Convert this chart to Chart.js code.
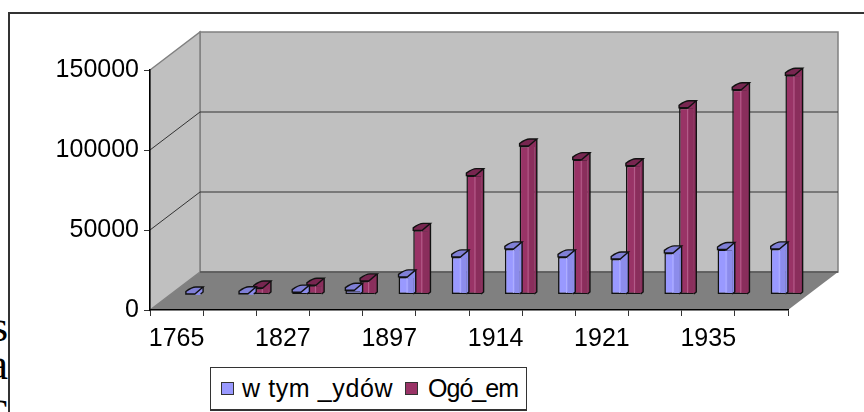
<!DOCTYPE html>
<html lang="pl">
<head>
  <meta charset="UTF-8" />
  <title>w tym _ydów / Ogó_em</title>
  <script src="https://cdn.jsdelivr.net/npm/chart.js"></script>
  <style>
    html, body { margin: 0; padding: 0; background: #fff; overflow: hidden; }
    #frame { position: absolute; left: 8px; top: 12px; width: 900px; height: 500px; border-left: 2px solid #333; border-top: 2px solid #333; }
    #chart { position: absolute; left: 0; top: 0; }
    #margin-text { position: absolute; left: 0; top: 300px; width: 8px; height: 112px; overflow: hidden; font: 44px "Liberation Serif", serif; color: #000; }
    #margin-text span { position: absolute; right: 0; }
    #legend { position: absolute; left: 210px; top: 367px; width: 315px; height: 41px; border: 1px solid #333; border-bottom-width: 2px; background: #fff; display: flex; align-items: center; font: 25px "Liberation Sans", Arial, sans-serif; color: #000; white-space: nowrap; }
    #legend i { display: block; width: 11px; height: 11px; border: 1px solid #333; margin: 0 8px 0 10px; }
    #legend i:nth-of-type(2) { margin-right: 10px; }
    #legend span { margin-right: 2px; }
    #legend span:nth-of-type(1) { letter-spacing: 0.6px; }
    #legend span:nth-of-type(2) { letter-spacing: -1px; }
  </style>
</head>
<body>
  <div id="frame"></div>
  <div id="margin-text"><span style="top:1px">s</span><span style="top:39px">a</span><span style="top:81px">c</span></div>
  <canvas id="chart" width="864" height="412"></canvas>
  <div id="legend"></div>

  <script>
    const categories = ["1765", "", "1827", "", "1897", "", "1914", "", "1921", "", "1935", ""];
    const zydow = [300, 500, 1500, 2700, 11000, 23500, 28500, 23500, 22200, 26000, 28100, 28500];
    const ogolem = [null, 4100, 5800, 8500, 40100, 74300, 92800, 84300, 80500, 116700, 128000, 137000];
    const seriesNames = ["w tym _ydów", "Ogó_em"];
    const seriesColors = ["#9999ff", "#993366"];
    const yMax = 150000;
    const yStep = 50000;

    // depth of the fake 3D box, and where the bars stand on the floor
    const boxDx = 50, boxDy = 38;
    const barDx = 24, barDy = 15.5;

    const shades = [
      { side: "#8585dd", top: "#7f7fd6", light: "#b0b0ff", dark: "#8c8ceb" },
      { side: "#7d2a55", top: "#772650", light: "#b5608c", dark: "#8a2e5c" }
    ];

    const box3d = {
      id: "box3d",
      beforeDraw(chart) {
        const { ctx } = chart;
        const { left, right } = chart.scales.x;
        const yScale = chart.scales.y;
        const top = yScale.top, bottom = yScale.bottom;

        ctx.save();
        ctx.lineWidth = 1.5;
        ctx.strokeStyle = "#808080";

        // back wall
        ctx.fillStyle = "#c0c0c0";
        ctx.fillRect(left + boxDx, top - boxDy, right - left, bottom - top);
        ctx.strokeRect(left + boxDx, top - boxDy, right - left, bottom - top);

        // side wall
        ctx.beginPath();
        ctx.moveTo(left, top);
        ctx.lineTo(left + boxDx, top - boxDy);
        ctx.lineTo(left + boxDx, bottom - boxDy);
        ctx.lineTo(left, bottom);
        ctx.closePath();
        ctx.fill();
        ctx.stroke();

        // floor
        ctx.fillStyle = "#808080";
        ctx.beginPath();
        ctx.moveTo(left, bottom);
        ctx.lineTo(left + boxDx, bottom - boxDy);
        ctx.lineTo(right + boxDx, bottom - boxDy);
        ctx.lineTo(right, bottom);
        ctx.closePath();
        ctx.fill();

        // grid lines bent round the two walls
        ctx.strokeStyle = "#333";
        ctx.lineWidth = 1;
        yScale.ticks.forEach(t => {
          if (t.value === 0 || t.value === yMax) return;
          const py = yScale.getPixelForValue(t.value);
          ctx.beginPath();
          ctx.moveTo(left, py);
          ctx.lineTo(left + boxDx, py - boxDy);
          ctx.lineTo(right + boxDx, py - boxDy);
          ctx.stroke();
        });
        ctx.strokeStyle = "#555";
        ctx.lineWidth = 1.5;
        ctx.beginPath();
        ctx.moveTo(left + boxDx, bottom - boxDy);
        ctx.lineTo(right + boxDx, bottom - boxDy);
        ctx.stroke();
        ctx.restore();
      },
      beforeDatasetDraw(chart) {
        chart.ctx.save();
        chart.ctx.translate(barDx, -barDy);
      },
      afterDatasetDraw(chart, args) {
        const { ctx } = chart;
        const s = shades[args.index];
        const values = chart.data.datasets[args.index].data;
        args.meta.data.forEach((bar, i) => {
          if (values[i] === null) return;
          const l = bar.x - bar.width / 2, r = bar.x + bar.width / 2;
          const y = bar.y, b = bar.base;
          const mid = l + 9;

          // facets down the front of the cylinder
          if (b - y > 4) {
            ctx.fillStyle = s.dark;
            ctx.fillRect(r - 5, y + 1, 5, b - y - 2);
            ctx.fillStyle = s.light;
            ctx.fillRect(l + 8, y + 1, 1, b - y - 2);
          }

          // right side, running up behind the front edge of the top
          ctx.lineWidth = 1.4;
          ctx.strokeStyle = "#111";
          ctx.fillStyle = s.dark;
          ctx.beginPath();
          ctx.moveTo(mid, y);
          ctx.lineTo(r + 2.5, y - 7);
          ctx.lineTo(r + 2.5, Math.max(y - 7, b - 2));
          ctx.lineTo(r, b);
          ctx.lineTo(r, y + 1);
          ctx.lineTo(mid, y + 1);
          ctx.closePath();
          ctx.fill();
          ctx.beginPath();
          ctx.moveTo(r + 2.5, y - 7);
          ctx.lineTo(r + 2.5, Math.max(y - 7, b - 2));
          ctx.lineTo(r, b);
          ctx.stroke();

          // top
          ctx.fillStyle = s.top;
          ctx.beginPath();
          ctx.moveTo(l, y);
          ctx.lineTo(l, y - 2.5);
          ctx.quadraticCurveTo(l + 6, y - 7, l + 10, y - 7);
          ctx.lineTo(r + 2.5, y - 7);
          ctx.lineTo(mid, y);
          ctx.closePath();
          ctx.fill();
          ctx.stroke();
        });
        ctx.restore();
      }
    };

    new Chart(document.getElementById("chart"), {
      type: "bar",
      data: {
        labels: categories,
        datasets: [
          { label: seriesNames[0], data: zydow, backgroundColor: seriesColors[0] },
          { label: seriesNames[1], data: ogolem, backgroundColor: seriesColors[1] }
        ].map(d => ({
          ...d,
          borderColor: "#111",
          borderWidth: 1.5,
          borderSkipped: "right",
          categoryPercentage: 0.553,
          barPercentage: 1,
          clip: false
        }))
      },
      options: {
        responsive: false,
        animation: false,
        layout: { padding: { top: 70, right: 76, bottom: 0, left: 0 } },
        plugins: { legend: { display: false }, tooltip: { enabled: false } },
        scales: {
          x: {
            afterFit(scale) { scale.height = 102; },
            grid: { drawOnChartArea: false, tickLength: 6, color: "#333" },
            border: { color: "#000", width: 1.5 },
            ticks: {
              autoSkip: false, maxRotation: 0, minRotation: 0, padding: 8, color: "#000",
              font: { size: 25, family: "'Liberation Sans', Arial, sans-serif" }
            }
          },
          y: {
            min: 0,
            max: yMax,
            afterFit(scale) { scale.width = 150; },
            grid: { drawOnChartArea: false, tickLength: 6, color: "#333" },
            border: { color: "#000", width: 1.5 },
            ticks: {
              stepSize: yStep, padding: 5, color: "#000",
              callback: v => String(v),
              font: { size: 25, family: "'Liberation Sans', Arial, sans-serif" }
            }
          }
        }
      },
      plugins: [box3d]
    });

    // legend box
    const legend = document.getElementById("legend");
    seriesNames.forEach((name, i) => {
      const mark = document.createElement("i");
      mark.style.background = seriesColors[i];
      const label = document.createElement("span");
      label.textContent = name;
      legend.append(mark, label);
    });
  </script>
</body>
</html>
